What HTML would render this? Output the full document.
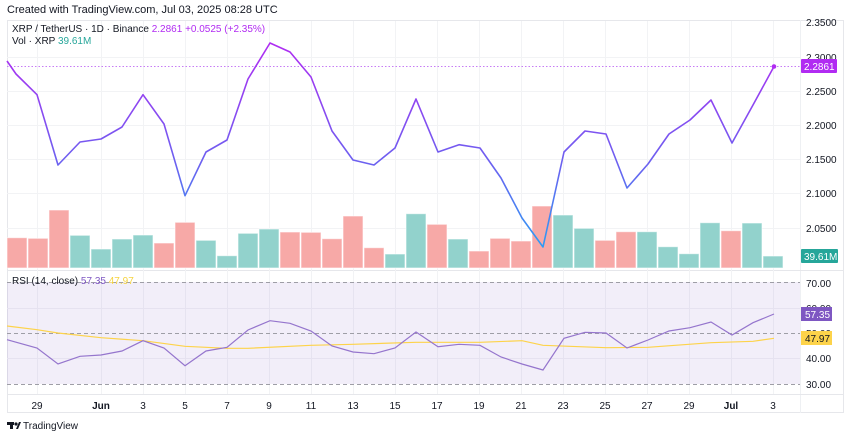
<!DOCTYPE html>
<html><head><meta charset="utf-8"><style>
html,body{margin:0;padding:0;background:#fff;}
body{width:850px;height:437px;overflow:hidden;font-family:"Liberation Sans",sans-serif;}
svg text{font-family:"Liberation Sans",sans-serif;}
</style></head><body>
<svg width="850" height="437" viewBox="0 0 850 437" xmlns="http://www.w3.org/2000/svg">
<defs>
<linearGradient id="pg" x1="0" y1="40" x2="0" y2="250" gradientUnits="userSpaceOnUse">
<stop offset="0" stop-color="#b12bf2"/><stop offset="0.6" stop-color="#6a62f0"/><stop offset="1" stop-color="#2b9ef5"/>
</linearGradient>
</defs>
<text x="7" y="13" font-size="11" fill="#131722">Created with TradingView.com, Jul 03, 2025 08:28 UTC</text>
<rect x="7.5" y="20.5" width="836" height="392" fill="none" stroke="#e6e7eb"/>
<line x1="800.5" y1="20" x2="800.5" y2="413" stroke="#eef0f3"/>
<line x1="7" y1="270.5" x2="843" y2="270.5" stroke="#e6e7eb"/>
<line x1="7" y1="394.5" x2="843" y2="394.5" stroke="#e6e7eb"/>
<!-- grid -->
<g stroke="#f2f3f5" stroke-width="1">
<line x1="37.5" y1="21" x2="37.5" y2="394"/><line x1="101.5" y1="21" x2="101.5" y2="394"/><line x1="143.5" y1="21" x2="143.5" y2="394"/><line x1="185.5" y1="21" x2="185.5" y2="394"/><line x1="227.5" y1="21" x2="227.5" y2="394"/><line x1="269.5" y1="21" x2="269.5" y2="394"/><line x1="311.5" y1="21" x2="311.5" y2="394"/><line x1="353.5" y1="21" x2="353.5" y2="394"/><line x1="395.5" y1="21" x2="395.5" y2="394"/><line x1="437.5" y1="21" x2="437.5" y2="394"/><line x1="479.5" y1="21" x2="479.5" y2="394"/><line x1="521.5" y1="21" x2="521.5" y2="394"/><line x1="563.5" y1="21" x2="563.5" y2="394"/><line x1="605.5" y1="21" x2="605.5" y2="394"/><line x1="647.5" y1="21" x2="647.5" y2="394"/><line x1="689.5" y1="21" x2="689.5" y2="394"/><line x1="731.5" y1="21" x2="731.5" y2="394"/><line x1="773.5" y1="21" x2="773.5" y2="394"/>
<line x1="7" y1="57.5" x2="800" y2="57.5"/><line x1="7" y1="91.5" x2="800" y2="91.5"/><line x1="7" y1="125.5" x2="800" y2="125.5"/><line x1="7" y1="159.5" x2="800" y2="159.5"/><line x1="7" y1="193.5" x2="800" y2="193.5"/><line x1="7" y1="228.5" x2="800" y2="228.5"/>
</g>
<!-- volume bars -->
<g stroke="#fff" stroke-opacity="0.6" stroke-width="1">
<rect x="7" y="237.7" width="20" height="30.3" fill="#f7a9a7"/>
<rect x="28" y="238.3" width="20" height="29.7" fill="#f7a9a7"/>
<rect x="49" y="210" width="20" height="58" fill="#f7a9a7"/>
<rect x="70" y="235.3" width="20" height="32.7" fill="#92d2cc"/>
<rect x="91" y="249" width="20" height="19" fill="#92d2cc"/>
<rect x="112" y="239" width="20" height="29" fill="#92d2cc"/>
<rect x="133" y="235" width="20" height="33" fill="#92d2cc"/>
<rect x="154" y="243" width="20" height="25" fill="#f7a9a7"/>
<rect x="175" y="222.3" width="20" height="45.7" fill="#f7a9a7"/>
<rect x="196" y="240.3" width="20" height="27.7" fill="#92d2cc"/>
<rect x="217" y="255.7" width="20" height="12.3" fill="#92d2cc"/>
<rect x="238" y="233.3" width="20" height="34.7" fill="#92d2cc"/>
<rect x="259" y="229" width="20" height="39" fill="#92d2cc"/>
<rect x="280" y="232" width="20" height="36" fill="#f7a9a7"/>
<rect x="301" y="232.3" width="20" height="35.7" fill="#f7a9a7"/>
<rect x="322" y="238.7" width="20" height="29.3" fill="#f7a9a7"/>
<rect x="343" y="216" width="20" height="52" fill="#f7a9a7"/>
<rect x="364" y="247.7" width="20" height="20.3" fill="#f7a9a7"/>
<rect x="385" y="254" width="20" height="14" fill="#92d2cc"/>
<rect x="406" y="213.7" width="20" height="54.3" fill="#92d2cc"/>
<rect x="427" y="224.3" width="20" height="43.7" fill="#f7a9a7"/>
<rect x="448" y="239" width="20" height="29" fill="#92d2cc"/>
<rect x="469" y="251" width="20" height="17" fill="#f7a9a7"/>
<rect x="490" y="238.3" width="20" height="29.7" fill="#f7a9a7"/>
<rect x="511" y="241" width="20" height="27" fill="#f7a9a7"/>
<rect x="532" y="206" width="20" height="62" fill="#f7a9a7"/>
<rect x="553" y="215" width="20" height="53" fill="#92d2cc"/>
<rect x="574" y="228.3" width="20" height="39.7" fill="#92d2cc"/>
<rect x="595" y="240.3" width="20" height="27.7" fill="#f7a9a7"/>
<rect x="616" y="231.7" width="20" height="36.3" fill="#f7a9a7"/>
<rect x="637" y="231.7" width="20" height="36.3" fill="#92d2cc"/>
<rect x="658" y="246.7" width="20" height="21.3" fill="#92d2cc"/>
<rect x="679" y="253.7" width="20" height="14.3" fill="#92d2cc"/>
<rect x="700" y="222.7" width="20" height="45.3" fill="#92d2cc"/>
<rect x="721" y="230.7" width="20" height="37.3" fill="#f7a9a7"/>
<rect x="742" y="223" width="20" height="45" fill="#92d2cc"/>
<rect x="763" y="256" width="20" height="12" fill="#92d2cc"/>
</g>
<!-- last price line -->
<line x1="7" y1="66.5" x2="800" y2="66.5" stroke="#c77cf5" stroke-dasharray="1.5 2" stroke-width="1"/>
<polyline fill="none" stroke="url(#pg)" stroke-width="1.6" stroke-linejoin="round" points="7,61 16,74 37,94.7 58,165 80,142 101,139 122,127 143,94.7 164,124 185,195.7 206,152 227,140 248,79 270,43 290,52 311,77 332,131 353,160 374,165 395,148 416,99 438,152 459,144.7 480,148 501,178 522,218 543,247 564,152 585,131 606,134 627,188 648,164 669,134 690,120 711,100 732,143 753,105 774,66.5"/>
<circle cx="774" cy="66.5" r="2.3" fill="#b12bf2"/>
<!-- legend -->
<text x="12" y="32" font-size="10" fill="#131722">XRP / TetherUS · 1D · Binance <tspan fill="#b12bf2">2.2861 +0.0525 (+2.35%)</tspan></text>
<text x="12" y="44" font-size="10" fill="#131722">Vol · XRP <tspan fill="#26a69a">39.61M</tspan></text>
<!-- price axis -->
<g font-size="10" fill="#131722">
<text x="806" y="26">2.3500</text><text x="806" y="61">2.3000</text><text x="806" y="95">2.2500</text><text x="806" y="129">2.2000</text><text x="806" y="163">2.1500</text><text x="806" y="197">2.1000</text><text x="806" y="232">2.0500</text>
</g>
<rect x="801" y="59" width="36" height="14" fill="#b12bf2" rx="1"/>
<text x="804" y="70" font-size="10" fill="#fff">2.2861</text>
<rect x="801" y="249" width="37" height="14" fill="#26a69a" rx="1"/>
<text x="804" y="260" font-size="10" fill="#fff">39.61M</text>
<!-- RSI pane -->
<rect x="7" y="282" width="793" height="102" fill="#7e57c2" fill-opacity="0.1"/>
<line x1="7" y1="308.5" x2="800" y2="308.5" stroke="#e6e2f0"/>
<line x1="7" y1="358.5" x2="800" y2="358.5" stroke="#e6e2f0"/>
<g stroke="#9e9ea6" stroke-dasharray="4 3" stroke-width="1">
<line x1="7" y1="282.5" x2="800" y2="282.5"/><line x1="7" y1="333.5" x2="800" y2="333.5"/><line x1="7" y1="384.5" x2="800" y2="384.5"/>
</g>
<polyline fill="none" stroke="#fdd34a" stroke-width="1.2" points="7,326 37,329.7 58,333 101,337.7 143,340.7 185,346.3 227,348.3 248,348.3 311,345.3 353,344.3 416,342.3 480,342.3 522,340.7 543,345.3 606,347.7 648,347.3 711,342.7 753,341.3 774,338.3"/>
<polyline fill="none" stroke="#9575cd" stroke-width="1.2" points="7,339.7 37,348 58,364 80,356.3 101,355 122,351 143,340.7 164,348 185,365.7 206,351 227,347.3 248,330 270,320.7 290,323.3 311,331 332,346 353,352 374,353.7 395,348 416,332 438,346.7 459,344.3 480,345.3 501,357 522,364 543,370 564,338.3 585,332.3 606,333 627,348 648,340 669,331 690,327.7 711,322 732,335 753,322.7 774,314"/>
<text x="12" y="284" font-size="10" fill="#131722">RSI (14, close) <tspan fill="#7e57c2">57.35</tspan> <tspan fill="#f5d340">47.97</tspan></text>
<g font-size="10" fill="#131722">
<text x="806" y="287">70.00</text><text x="806" y="312">60.00</text><text x="806" y="337">50.00</text><text x="806" y="362">40.00</text><text x="806" y="388">30.00</text>
</g>
<rect x="801" y="307" width="31" height="14" fill="#7e57c2"/>
<text x="805" y="318" font-size="10" fill="#fff">57.35</text>
<rect x="801" y="331" width="31" height="14" fill="#fdd34a"/>
<text x="805" y="342" font-size="10" fill="#131722">47.97</text>
<!-- time axis -->
<g font-size="10" fill="#131722" text-anchor="middle">
<text x="37" y="409">29</text><text x="101" y="409" font-weight="bold">Jun</text><text x="143" y="409">3</text><text x="185" y="409">5</text><text x="227" y="409">7</text><text x="269" y="409">9</text><text x="311" y="409">11</text><text x="353" y="409">13</text><text x="395" y="409">15</text><text x="437" y="409">17</text><text x="479" y="409">19</text><text x="521" y="409">21</text><text x="563" y="409">23</text><text x="605" y="409">25</text><text x="647" y="409">27</text><text x="689" y="409">29</text><text x="731" y="409" font-weight="bold">Jul</text><text x="773" y="409">3</text>
</g>
<!-- logo -->
<g fill="#131722">
<rect x="7" y="422" width="7" height="3"/><rect x="10" y="422" width="3" height="7"/><circle cx="16" cy="424" r="1.6"/><path d="M16 429 L19 422 L21 422 L18 429 Z"/>
</g>
<text x="23" y="429" font-size="10" fill="#131722">TradingView</text>
</svg>
</body></html>
